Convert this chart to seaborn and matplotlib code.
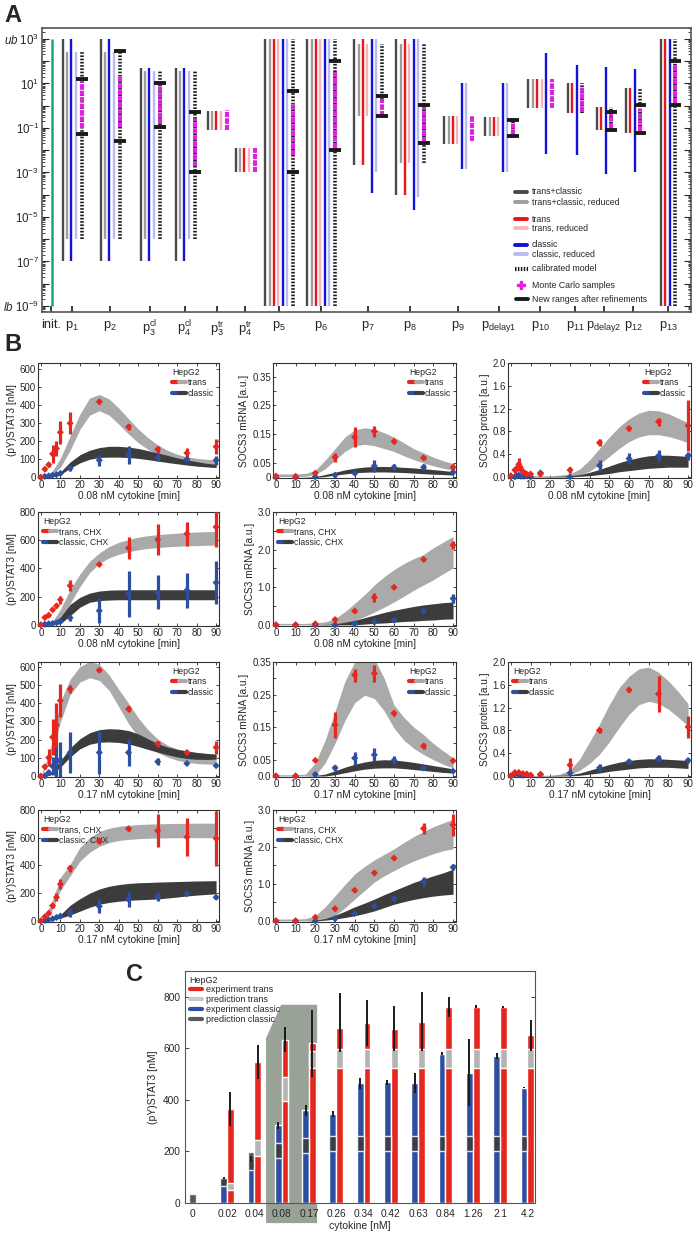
import numpy as np
import seaborn as sns
import matplotlib.pyplot as plt
from matplotlib.lines import Line2D
from matplotlib.legend_handler import HandlerTuple
from matplotlib.patches import Polygon
from matplotlib.ticker import LogLocator, FixedLocator, NullFormatter

W, H = 696, 1236

# ---------------- panel A: parameter ranges (log10 lower, upper) ----------------
par_labels = ['init.', r'$\mathrm{p}_{1}$', r'$\mathrm{p}_{2}$', r'$\mathrm{p}_{3}^{\mathrm{cl}}$',
              r'$\mathrm{p}_{4}^{\mathrm{cl}}$', r'$\mathrm{p}_{3}^{\mathrm{tr}}$', r'$\mathrm{p}_{4}^{\mathrm{tr}}$',
              r'$\mathrm{p}_{5}$', r'$\mathrm{p}_{6}$', r'$\mathrm{p}_{7}$', r'$\mathrm{p}_{8}$', r'$\mathrm{p}_{9}$',
              r'$\mathrm{p}_{\mathrm{delay1}}$', r'$\mathrm{p}_{10}$', r'$\mathrm{p}_{11}$',
              r'$\mathrm{p}_{\mathrm{delay2}}$', r'$\mathrm{p}_{12}$', r'$\mathrm{p}_{13}$']
par_pos = [51, 72, 110, 150, 185, 217, 245, 279, 321, 368, 410, 458, 499, 540, 575, 604, 633, 668]

range_init = (-9, 3)
range_tc = [None, (-7, 3), (-7, 3), (-7, 1.7), (-7, 1.7), (-1.1, -0.24), (-3, -1.9), (-9, 3), (-9, 3),
            (-2.67, 3), (-4, 3), (-1.71, -0.45), (-1.36, -0.5), (-0.1, 1.18), (-0.33, 1.04),
            (-1.08, -0.07), (-1.22, 0.78), (-9, 3)]
range_tcr = [None, (-6, 2.42), (-6, 2.42), (-6, 1.55), (-6, 1.55), (-1.1, -0.24), (-3, -1.9), (-9, 3), (-9, 3),
             (-0.45, 2.76), (-2.56, 2.76), (-1.71, -0.45), (-1.36, -0.5), (-0.1, 1.18), None, None, None, None]
range_tr = [None, None, None, None, None, (-1.1, -0.24), (-3, -1.9), (-9, 3), (-9, 3),
            (-2.67, 3), (-4, 3), (-1.71, -0.45), (-1.36, -0.5), (-0.1, 1.18), (-0.33, 1.04),
            (-1.08, -0.07), (-1.22, 0.78), (-9, 3)]
range_trr = [None, None, None, None, None, (-1.1, -0.24), (-3, -1.9), (-9, 3), (-9, 3),
             (-0.45, 2.76), (-2.56, 2.76), (-1.71, -0.45), (-1.36, -0.5), (-0.1, 1.18), None, None, None, None]
range_cl = [None, (-7, 3), (-7, 3), (-7, 1.7), (-7, 1.7), None, None, (-9, 3), (-9, 3),
            (-3.93, 3), (-4.69, 3), (-2.84, 1.04), (-3.0, 1.04), (-2.16, 2.38), (-2.2, 1.84),
            (-3.09, 1.76), (-3.0, 1.67), (-9, 3)]
range_clr = [None, (-6, 2.42), (-6, 2.42), (-6, 1.55), (-6, 1.55), None, None, (-9, 3), (-9, 3),
             (-2.96, 3), (-4.1, 3), (-2.84, 1.04), (-3.0, 1.04), None, None, None, None, None]
range_cal = [None, (-6, 2.42), (-6, 2.42), (-6, 1.55), (-6, 1.55), (-1.1, -0.24), (-3, -1.9), (-9, 3), (-9, 3),
             (-0.45, 2.76), (-2.56, 2.76), (-1.6, -0.45), (-1.38, -0.64), (-0.1, 1.18), (-0.33, 1.04),
             (-1.08, -0.07), (-1.22, 0.78), (-9, 3)]
range_mc = [None, (-1.0, 1.2), (-0.96, 1.4), (-0.82, 0.96), (-2.73, -0.6), (-1.1, -0.2), (-3, -1.9),
            (-2.2, 0.13), (-1.9, 1.53), (-0.45, 0.29), (-1.62, 0.02), (-1.6, -0.45), (-1.3, -0.75),
            (-0.1, 1.18), (-0.3, 0.9), (-1.0, -0.35), (-1.12, -0.16), (0.13, 1.84)]
range_new = [None, (-1.27, 1.22), (-1.6, 2.47), (-0.96, 1.04), (-3, -0.3), None, None, (-2.97, 0.66),
             (-2, 2), (-0.45, 0.42), (-1.67, 0.02), None, (-1.38, -0.64), None, None, (-1.08, -0.3),
             (-1.22, 0.02), (0.02, 2.02)]

# ---------------- panel B: time courses ----------------
t_band = [0, 5, 10, 15, 20, 25, 30, 35, 40, 45, 50, 55, 60, 65, 70, 75, 80, 85, 90]

# (pY)STAT3, 0.08 nM
stat08_t = [0, 2, 4, 6, 8, 10, 15, 30, 45, 60, 75, 90]
stat08_tr = [0, 45, 70, 130, 160, 250, 300, 420, 280, 155, 135, 170]
stat08_tr_err = [5, 10, 12, 50, 40, 65, 60, 12, 15, 18, 25, 40]
stat08_cl = [0, 5, 8, 12, 15, 22, 50, 95, 125, 110, 100, 95]
stat08_cl_err = [3, 3, 4, 5, 6, 8, 15, 30, 50, 20, 15, 25]
stat08_btr_lo = [0, 10, 55, 150, 265, 345, 370, 345, 295, 240, 192, 155, 125, 100, 84, 73, 65, 60, 57]
stat08_btr_hi = [0, 20, 105, 230, 350, 440, 460, 435, 385, 325, 268, 220, 180, 150, 128, 114, 105, 100, 97]
stat08_bcl_lo = [0, 2, 15, 50, 80, 100, 110, 112, 112, 110, 105, 98, 90, 82, 75, 68, 62, 58, 54]
stat08_bcl_hi = [0, 6, 30, 85, 125, 150, 165, 172, 172, 168, 160, 148, 135, 122, 108, 97, 87, 78, 72]

# SOCS3 mRNA, 0.08 nM
mrna08_t = [0, 10, 20, 30, 40, 50, 60, 75, 90]
mrna08_tr = [0.005, 0.004, 0.015, 0.07, 0.14, 0.16, 0.125, 0.068, 0.035]
mrna08_tr_err = [0.004, 0.004, 0.005, 0.015, 0.035, 0.02, 0.008, 0.008, 0.01]
mrna08_cl = [0.0, 0.0, 0.002, 0.008, 0.015, 0.04, 0.035, 0.035, 0.018]
mrna08_cl_err = [0.002, 0.002, 0.003, 0.005, 0.005, 0.02, 0.01, 0.01, 0.006]
mrna08_btr_lo = [0.003, 0.003, 0.003, 0.004, 0.01, 0.03, 0.06, 0.09, 0.11, 0.115, 0.11, 0.1, 0.09, 0.075,
                 0.062, 0.05, 0.04, 0.032, 0.025]
mrna08_btr_hi = [0.012, 0.012, 0.012, 0.014, 0.025, 0.06, 0.1, 0.14, 0.165, 0.172, 0.168, 0.155, 0.14, 0.12,
                 0.1, 0.085, 0.07, 0.058, 0.048]
mrna08_bcl_lo = [0, 0, 0, 0, 0, 0.003, 0.008, 0.012, 0.016, 0.018, 0.019, 0.019, 0.018, 0.017, 0.015, 0.013,
                 0.011, 0.01, 0.008]
mrna08_bcl_hi = [0, 0, 0, 0.001, 0.003, 0.01, 0.018, 0.026, 0.032, 0.036, 0.038, 0.038, 0.037, 0.035, 0.033,
                 0.03, 0.027, 0.024, 0.02]

# SOCS3 protein, 0.08 nM
prot08_t = [0, 2, 3, 4, 5, 6.5, 8, 10, 15, 30, 45, 60, 75, 90]
prot08_tr = [0.02, 0.12, 0.15, 0.22, 0.14, 0.08, 0.05, 0.05, 0.05, 0.12, 0.6, 0.85, 0.97, 0.9]
prot08_tr_err = [0.02, 0.05, 0.05, 0.12, 0.06, 0.04, 0.03, 0.02, 0.03, 0.06, 0.06, 0.04, 0.07, 0.45]
prot08_cl = [0.0, 0.0, 0.02, 0.03, 0.01, 0.01, 0.02, 0.0, 0.07, 0.0, 0.2, 0.32, 0.37, 0.37]
prot08_cl_err = [0.02, 0.02, 0.02, 0.02, 0.02, 0.02, 0.02, 0.02, 0.04, 0.02, 0.09, 0.1, 0.1, 0.07]
prot08_btr_lo = [0, 0, 0, 0, 0, 0, 0.0, 0.03, 0.1, 0.22, 0.36, 0.5, 0.62, 0.7, 0.74, 0.74, 0.71, 0.66, 0.6]
prot08_btr_hi = [0.02, 0.02, 0.02, 0.02, 0.02, 0.03, 0.05, 0.14, 0.3, 0.5, 0.7, 0.88, 1.02, 1.12, 1.17, 1.16,
                 1.11, 1.03, 0.95]
prot08_bcl_lo = [0, 0, 0, 0, 0, 0, 0, 0.01, 0.02, 0.04, 0.06, 0.09, 0.11, 0.13, 0.15, 0.16, 0.17, 0.17, 0.17]
prot08_bcl_hi = [0.005, 0.005, 0.005, 0.005, 0.005, 0.01, 0.02, 0.04, 0.08, 0.13, 0.19, 0.25, 0.3, 0.34, 0.37,
                 0.38, 0.38, 0.37, 0.36]

# (pY)STAT3, 0.08 nM, CHX
stat08c_t = [0, 2, 4, 6, 8, 10, 15, 30, 45, 60, 75, 90]
stat08c_tr = [0, 52, 69, 107, 135, 178, 278, 428, 544, 605, 646, 694]
stat08c_tr_err = [5, 8, 10, 12, 15, 30, 40, 12, 80, 110, 85, 140]
stat08c_cl = [0, 5, 8, 10, 15, 25, 50, 100, 220, 230, 245, 300]
stat08c_cl_err = [3, 3, 4, 5, 5, 10, 20, 90, 165, 120, 125, 150]
stat08c_btr_lo = [0, 0, 40, 150, 270, 370, 435, 475, 500, 518, 532, 542, 548, 553, 557, 560, 562, 564, 565]
stat08c_btr_hi = [0, 5, 110, 250, 360, 450, 510, 555, 585, 605, 622, 632, 640, 645, 650, 655, 658, 660, 662]
stat08c_bcl_lo = [0, 0, 8, 65, 125, 160, 172, 176, 178, 178, 178, 178, 178, 178, 178, 178, 178, 178, 178]
stat08c_bcl_hi = [0, 2, 55, 145, 195, 225, 240, 246, 248, 249, 249, 249, 249, 249, 249, 249, 249, 249, 249]

# SOCS3 mRNA, 0.08 nM, CHX
mrna08c_t = [0, 10, 20, 30, 40, 50, 60, 75, 90]
mrna08c_tr = [0.0, 0.0, 0.03, 0.14, 0.37, 0.73, 1.0, 1.74, 2.12]
mrna08c_tr_err = [0.03, 0.03, 0.04, 0.06, 0.06, 0.12, 0.04, 0.04, 0.1]
mrna08c_cl = [0.0, 0.0, 0.0, 0.0, 0.03, 0.07, 0.13, 0.37, 0.7]
mrna08c_cl_err = [0.02, 0.02, 0.02, 0.02, 0.02, 0.02, 0.03, 0.05, 0.12]
mrna08c_btr_lo = [0, 0, 0, 0, 0.0, 0.0, 0.02, 0.06, 0.12, 0.22, 0.34, 0.47, 0.61, 0.76, 0.92, 1.06, 1.2, 1.36, 1.51]
mrna08c_btr_hi = [0.04, 0.04, 0.04, 0.04, 0.05, 0.08, 0.16, 0.35, 0.57, 0.8, 1.06, 1.28, 1.47, 1.63, 1.76, 1.87,
                  2.05, 2.2, 2.35]
mrna08c_bcl_lo = [0, 0, 0, 0, 0, 0, 0, 0.0, 0.0, 0.02, 0.04, 0.05, 0.07, 0.09, 0.1, 0.12, 0.13, 0.15, 0.16]
mrna08c_bcl_hi = [0, 0, 0, 0, 0.005, 0.01, 0.03, 0.07, 0.12, 0.19, 0.26, 0.33, 0.39, 0.44, 0.49, 0.53, 0.56, 0.59, 0.61]

# (pY)STAT3, 0.17 nM
stat17_t = [0, 2, 4, 6, 8, 10, 15, 30, 45, 60, 75, 90]
stat17_tr = [0, 52, 102, 214, 279, 414, 477, 580, 368, 177, 130, 158]
stat17_tr_err = [4, 12, 45, 100, 120, 90, 22, 12, 18, 15, 15, 35]
stat17_cl = [0, 2, 20, 55, 80, 90, 130, 130, 130, 80, 70, 58]
stat17_cl_err = [3, 3, 15, 50, 100, 100, 110, 120, 75, 18, 10, 10]
stat17_btr_lo = [0, 90, 297, 446, 515, 539, 524, 470, 380, 288, 215, 165, 130, 105, 88, 76, 70, 67, 65]
stat17_btr_hi = [0, 158, 409, 530, 600, 628, 613, 555, 475, 400, 320, 255, 204, 170, 150, 139, 131, 125, 121]
stat17_bcl_lo = [0, 8, 50, 105, 150, 175, 186, 188, 185, 177, 163, 147, 132, 118, 106, 97, 93, 92, 94]
stat17_bcl_hi = [0, 18, 85, 155, 205, 238, 255, 260, 258, 250, 232, 205, 178, 160, 147, 138, 130, 125, 121]

# SOCS3 mRNA, 0.17 nM
mrna17_t = [0, 10, 20, 30, 40, 50, 60, 75, 90]
mrna17_tr = [0.0, 0.0, 0.048, 0.157, 0.31, 0.315, 0.193, 0.092, 0.047]
mrna17_tr_err = [0.003, 0.003, 0.006, 0.04, 0.02, 0.025, 0.008, 0.01, 0.005]
mrna17_cl = [0.0, 0.0, 0.005, 0.025, 0.055, 0.065, 0.048, 0.025, 0.015]
mrna17_cl_err = [0.002, 0.002, 0.004, 0.01, 0.02, 0.02, 0.012, 0.005, 0.004]
mrna17_btr_lo = [0, 0, 0, 0, 0.002, 0.04, 0.1, 0.17, 0.225, 0.248, 0.238, 0.2, 0.147, 0.11, 0.085, 0.066, 0.05,
                 0.036, 0.025]
mrna17_btr_hi = [0.004, 0.004, 0.004, 0.006, 0.04, 0.11, 0.198, 0.29, 0.35, 0.37, 0.36, 0.3, 0.218, 0.18, 0.15,
                 0.127, 0.1, 0.077, 0.056]
mrna17_bcl_lo = [0, 0, 0, 0, 0, 0, 0.004, 0.01, 0.016, 0.021, 0.024, 0.025, 0.025, 0.023, 0.02, 0.017, 0.014,
                 0.011, 0.009]
mrna17_bcl_hi = [0, 0, 0, 0, 0.002, 0.006, 0.016, 0.027, 0.036, 0.043, 0.048, 0.05, 0.049, 0.046, 0.042, 0.037,
                 0.032, 0.027, 0.022]

# SOCS3 protein, 0.17 nM
prot17_t = [0, 2, 4, 6, 8, 10, 15, 30, 45, 60, 75, 90]
prot17_tr = [0.0, 0.06, 0.06, 0.04, 0.03, 0.01, 0.03, 0.19, 0.8, 1.51, 1.44, 0.86]
prot17_tr_err = [0.02, 0.03, 0.03, 0.03, 0.02, 0.02, 0.02, 0.12, 0.04, 0.04, 0.32, 0.2]
prot17_cl = [0.0, 0.03, 0.02, 0.01, 0.03, 0.01, 0.02, 0.05, 0.14, 0.25, 0.3, 0.27]
prot17_cl_err = [0.01, 0.02, 0.02, 0.02, 0.02, 0.01, 0.01, 0.02, 0.06, 0.04, 0.06, 0.05]
prot17_btr_lo = [0, 0, 0, 0, 0, 0, 0.02, 0.1, 0.22, 0.38, 0.6, 0.85, 1.08, 1.25, 1.31, 1.27, 1.17, 1.03, 0.88]
prot17_btr_hi = [0.01, 0.01, 0.01, 0.01, 0.01, 0.03, 0.1, 0.3, 0.6, 0.91, 1.25, 1.55, 1.75, 1.88, 1.91, 1.82,
                 1.67, 1.48, 1.27]
prot17_bcl_lo = [0, 0, 0, 0, 0, 0, 0, 0.01, 0.03, 0.05, 0.08, 0.1, 0.12, 0.14, 0.15, 0.15, 0.15, 0.14, 0.13]
prot17_bcl_hi = [0.005, 0.005, 0.005, 0.005, 0.005, 0.01, 0.02, 0.05, 0.1, 0.15, 0.2, 0.24, 0.27, 0.29, 0.3, 0.3,
                 0.29, 0.28, 0.27]

# (pY)STAT3, 0.17 nM, CHX
stat17c_t = [0, 2, 4, 6, 8, 10, 15, 30, 45, 60, 75, 90]
stat17c_tr = [0, 30, 55, 110, 170, 265, 380, 575, 665, 650, 605, 595]
stat17c_tr_err = [5, 8, 10, 15, 30, 35, 25, 20, 15, 120, 140, 200]
stat17c_cl = [0, 3, 8, 15, 25, 35, 60, 105, 155, 175, 195, 170]
stat17c_cl_err = [3, 3, 4, 5, 8, 15, 30, 50, 55, 35, 10, 15]
stat17c_btr_lo = [0, 54, 219, 325, 430, 495, 538, 565, 580, 588, 593, 596, 598, 599, 600, 600, 600, 600, 600]
stat17c_btr_hi = [0, 113, 313, 407, 530, 600, 645, 668, 682, 690, 695, 698, 700, 702, 703, 704, 705, 705, 705]
stat17c_bcl_lo = [0, 5, 20, 42, 70, 98, 120, 133, 142, 148, 152, 155, 158, 165, 172, 180, 186, 191, 195]
stat17c_bcl_hi = [0, 15, 45, 113, 160, 200, 230, 250, 262, 270, 275, 277, 280, 282, 284, 286, 288, 289, 290]

# SOCS3 mRNA, 0.17 nM, CHX
mrna17c_t = [0, 10, 20, 30, 40, 50, 60, 75, 90]
mrna17c_tr = [0.0, 0.0, 0.1, 0.33, 0.83, 1.3, 1.7, 2.5, 2.6]
mrna17c_tr_err = [0.03, 0.03, 0.03, 0.05, 0.04, 0.05, 0.05, 0.15, 0.3]
mrna17c_cl = [0.0, 0.0, 0.0, 0.06, 0.2, 0.4, 0.6, 1.07, 1.45]
mrna17c_cl_err = [0.02, 0.02, 0.02, 0.03, 0.04, 0.05, 0.06, 0.12, 0.08]
mrna17c_btr_lo = [0, 0, 0, 0, 0.02, 0.08, 0.14, 0.35, 0.59, 0.82, 1.05, 1.22, 1.36, 1.5, 1.62, 1.72, 1.82, 1.9, 1.95]
mrna17c_btr_hi = [0.05, 0.05, 0.05, 0.06, 0.14, 0.38, 0.68, 0.98, 1.27, 1.47, 1.65, 1.8, 1.95, 2.12, 2.28, 2.42,
                  2.55, 2.65, 2.75]
mrna17c_bcl_lo = [0, 0, 0, 0, 0, 0.02, 0.05, 0.09, 0.14, 0.2, 0.27, 0.36, 0.45, 0.52, 0.58, 0.63, 0.67, 0.7, 0.72]
mrna17c_bcl_hi = [0, 0, 0, 0, 0.02, 0.07, 0.15, 0.26, 0.38, 0.48, 0.59, 0.71, 0.82, 0.93, 1.04, 1.13, 1.22, 1.3, 1.4]

# ---------------- panel C: dose response ----------------
conc_labels = ['0', '0.02', '0.04', '0.08', '0.17', '0.26', '0.34', '0.42', '0.63', '0.84', '1.26', '2.1', '4.2']
conc_pos = [-1.28, 0, 1, 2, 3, 4, 5, 6, 7, 8, 9, 10, 11]
exp_classic = [np.nan, 97, 171, 301, 359, 345, 464, 469, 466, 579, 506, 570, 447]
exp_classic_err = [np.nan, 5, 10, 12, 22, 10, 22, 10, 38, 5, 130, 12, 2]
exp_trans = [np.nan, 365, 548, 634, 619, 680, 700, 675, 703, 760, 762, 760, 650]
exp_trans_err_lo = [np.nan, 65, 68, 50, 130, 95, 90, 85, 113, 40, 5, 5, 60]
exp_trans_err_hi = [np.nan, 67, 64, 50, 130, 135, 88, 90, 117, 40, 5, 5, 60]
pred_classic_lo = [0, 65, 127, 175, 194, 201, 201, 201, 201, 201, 201, 201, 201]
pred_classic_hi = [35, 97, 196, 233, 253, 259, 259, 259, 259, 259, 259, 259, 259]
pred_trans_lo = [np.nan, 49, 184, 395, 525, 525, 525, 525, 525, 525, 525, 525, 525]
pred_trans_hi = [np.nan, 78, 246, 490, 590, 596, 596, 596, 596, 596, 596, 596, 596]

# ---------------- style ----------------
sns.set_theme(style='ticks')
plt.rcParams['font.family'] = ['Liberation Sans', 'DejaVu Sans']
plt.rcParams['mathtext.fontset'] = 'custom'
plt.rcParams['mathtext.rm'] = 'Liberation Sans'
plt.rcParams['mathtext.it'] = 'Liberation Sans:italic'
plt.rcParams['mathtext.bf'] = 'Liberation Sans:bold'
plt.rcParams['axes.edgecolor'] = '#333333'
plt.rcParams['axes.linewidth'] = 0.8

C_TC, C_TCR = '#4a4a4a', '#9d9d9d'
C_TR, C_TRR = '#e8161b', '#f7b6b6'
C_CL, C_CLR = '#1212d8', '#b9bcf2'
C_INIT, C_MC = '#1aa57a', '#e21fe2'
RED, BLUE = '#e5271f', '#2c4f9f'
BAND_TR, BAND_CL = '#aaaaaa', '#3c3c3c'


def box(x0, y0, x1, y1):
    return [x0 / W, 1 - y1 / H, (x1 - x0) / W, (y1 - y0) / H]


fig = plt.figure(figsize=(W / 100, H / 100), dpi=100)

# ================= A =================
ax = fig.add_axes(box(42, 28, 691, 312))
ax.set_yscale('log')
series = [(range_tc, C_TC), (range_tcr, C_TCR), (range_tr, C_TR), (range_trr, C_TRR),
          (range_cl, C_CL), (range_clr, C_CLR)]
gap, dgap = 4.4, 5.8
for i, xc in enumerate(par_pos):
    if i == 0:
        ax.vlines(52, 10.0 ** range_init[0], 10.0 ** range_init[1], color=C_INIT, lw=1.8)
        continue
    present = [(r[i], c) for r, c in series if r[i] is not None]
    width = (len(present) - 1) * gap + dgap
    x0 = xc - width / 2
    for j, (rg, c) in enumerate(present):
        ax.vlines(x0 + j * gap, 10.0 ** rg[0], 10.0 ** rg[1], color=c, lw=1.7)
    xd = x0 + width
    if range_cal[i] is not None:
        ax.vlines(xd, 10.0 ** range_cal[i][0], 10.0 ** range_cal[i][1], color='k', lw=2.6,
                  linestyles=(0, (0.45, 0.45)))
    if range_mc[i] is not None:
        ax.vlines(xd, 10.0 ** range_mc[i][0], 10.0 ** range_mc[i][1], color=C_MC, lw=3.0,
                  linestyles=(0, (1.2, 0.35)), zorder=3)
    if range_new[i] is not None:
        ax.plot([xd, xd], [10.0 ** range_new[i][0], 10.0 ** range_new[i][1]], ls='none',
                marker='_', ms=8, mew=2.8, color='k', zorder=4)

ax.set_xlim(42, 691)
ax.set_ylim(10 ** -9.27, 10 ** 3.49)
ax.set_xticks(par_pos)
ax.set_xticklabels(par_labels, fontsize=9.3)
ax.yaxis.set_major_locator(FixedLocator([10.0 ** k for k in range(-9, 4)]))
ylabels = []
for k in range(-9, 4):
    if k == 3:
        ylabels.append(r'$\mathit{ub}\ 10^{3}$')
    elif k == -9:
        ylabels.append(r'$\mathit{lb}\ 10^{-9}$')
    elif k % 2 != 0:
        ylabels.append(r'$10^{%d}$' % k)
    else:
        ylabels.append('')
ax.set_yticklabels(ylabels, fontsize=8.3)
ax.yaxis.set_minor_locator(LogLocator(base=10, subs=np.arange(2, 10), numticks=100))
ax.yaxis.set_minor_formatter(NullFormatter())
ax.tick_params(axis='y', which='both', direction='in', left=True, right=True, pad=2)
ax.tick_params(axis='y', which='major', length=5, width=0.8)
ax.tick_params(axis='y', which='minor', length=2.5, width=0.6)
ax.tick_params(axis='x', direction='in', length=4, pad=5)
for s in ax.spines.values():
    s.set_color('#555555')
    s.set_linewidth(1.2)

# legend of A (drawn on the figure)
leg_rows = [('trans+classic', C_TC, 192), ('trans+classic, reduced', C_TCR, 202),
            ('trans', C_TR, 219), ('trans, reduced', C_TRR, 228),
            ('classic', C_CL, 245), ('classic, reduced', C_CLR, 254),
            ('calibrated model', 'cal', 269), ('Monte Carlo samples', 'mc', 285),
            ('New ranges after refinements', 'new', 299)]
for lab, sty, yy in leg_rows:
    yf = 1 - yy / H
    if sty == 'cal':
        fig.add_artist(Line2D([515 / W, 528 / W], [yf, yf], color='k', lw=3,
                              ls=(0, (0.35, 0.35))))
    elif sty == 'mc':
        fig.add_artist(Line2D([521 / W], [yf], color=C_MC, marker='P', ms=6, ls='none'))
    elif sty == 'new':
        fig.add_artist(Line2D([516 / W, 528 / W], [yf, yf], color='k', lw=2.8))
    else:
        fig.add_artist(Line2D([515 / W, 527 / W], [yf, yf], color=sty, lw=2.8))
    fig.text(532 / W, yf, lab, fontsize=6.3, va='center', ha='left')

# ================= B =================
cols = [(38, 219), (273, 456), (508, 691)]
rows = [(363, 478), (512, 626), (662, 777), (810, 922)]

stat_ticks = [0, 100, 200, 300, 400, 500, 600]
stat_ticks_chx = [0, 200, 400, 600, 800]
mrna_ticks = [0, 0.05, 0.1, 0.15, 0.2, 0.25, 0.3, 0.35]
chx_mrna_ticks = [0, 0.5, 1.0, 1.5, 2.0, 2.5, 3.0]
prot_ticks = [0, 0.4, 0.8, 1.2, 1.6, 2.0]

panels = [
    dict(r=0, c=0, t=stat08_t, tr=stat08_tr, tre=stat08_tr_err, cl=stat08_cl, cle=stat08_cl_err,
         btr=(stat08_btr_lo, stat08_btr_hi), bcl=(stat08_bcl_lo, stat08_bcl_hi), ylim=(-4, 635),
         yt=stat_ticks, ytl=[str(v) for v in stat_ticks], yl='(pY)STAT3 [nM]', dose='0.08', chx=False,
         loc='upper right'),
    dict(r=0, c=1, t=mrna08_t, tr=mrna08_tr, tre=mrna08_tr_err, cl=mrna08_cl, cle=mrna08_cl_err,
         btr=(mrna08_btr_lo, mrna08_btr_hi), bcl=(mrna08_bcl_lo, mrna08_bcl_hi), ylim=(-0.002, 0.397),
         yt=mrna_ticks, ytl=['0', '0.05', '', '0.15', '', '0.25', '', '0.35'], yl='SOCS3 mRNA [a.u.]',
         dose='0.08', chx=False, loc='upper right'),
    dict(r=0, c=2, t=prot08_t, tr=prot08_tr, tre=prot08_tr_err, cl=prot08_cl, cle=prot08_cl_err,
         btr=(prot08_btr_lo, prot08_btr_hi), bcl=(prot08_bcl_lo, prot08_bcl_hi), ylim=(-0.02, 2.0),
         yt=prot_ticks, ytl=['0.0', '0.4', '0.8', '1.2', '1.6', '2.0'], yl='SOCS3 protein [a.u.]',
         dose='0.08', chx=False, loc='upper right'),
    dict(r=1, c=0, t=stat08c_t, tr=stat08c_tr, tre=stat08c_tr_err, cl=stat08c_cl, cle=stat08c_cl_err,
         btr=(stat08c_btr_lo, stat08c_btr_hi), bcl=(stat08c_bcl_lo, stat08c_bcl_hi), ylim=(-8, 800),
         yt=stat_ticks_chx, ytl=[str(v) for v in stat_ticks_chx], yl='(pY)STAT3 [nM]', dose='0.08',
         chx=True, loc='upper left'),
    dict(r=1, c=1, t=mrna08c_t, tr=mrna08c_tr, tre=mrna08c_tr_err, cl=mrna08c_cl, cle=mrna08c_cl_err,
         btr=(mrna08c_btr_lo, mrna08c_btr_hi), bcl=(mrna08c_bcl_lo, mrna08c_bcl_hi), ylim=(-0.03, 3.0),
         yt=chx_mrna_ticks, ytl=['0.0', '', '1.0', '', '2.0', '', '3.0'], yl='SOCS3 mRNA [a.u.]',
         dose='0.08', chx=True, loc='upper left'),
    dict(r=2, c=0, t=stat17_t, tr=stat17_tr, tre=stat17_tr_err, cl=stat17_cl, cle=stat17_cl_err,
         btr=(stat17_btr_lo, stat17_btr_hi), bcl=(stat17_bcl_lo, stat17_bcl_hi), ylim=(-4, 625),
         yt=stat_ticks, ytl=[str(v) for v in stat_ticks], yl='(pY)STAT3 [nM]', dose='0.17', chx=False,
         loc='upper right'),
    dict(r=2, c=1, t=mrna17_t, tr=mrna17_tr, tre=mrna17_tr_err, cl=mrna17_cl, cle=mrna17_cl_err,
         btr=(mrna17_btr_lo, mrna17_btr_hi), bcl=(mrna17_bcl_lo, mrna17_bcl_hi), ylim=(-0.003, 0.35),
         yt=mrna_ticks, ytl=['0.0', '0.05', '', '0.15', '', '0.25', '', '0.35'], yl='SOCS3 mRNA [a.u.]',
         dose='0.17', chx=False, loc='upper right'),
    dict(r=2, c=2, t=prot17_t, tr=prot17_tr, tre=prot17_tr_err, cl=prot17_cl, cle=prot17_cl_err,
         btr=(prot17_btr_lo, prot17_btr_hi), bcl=(prot17_bcl_lo, prot17_bcl_hi), ylim=(-0.02, 2.0),
         yt=prot_ticks, ytl=['0.0', '0.4', '0.8', '1.2', '1.6', '2.0'], yl='SOCS3 protein [a.u.]',
         dose='0.17', chx=False, loc='upper left'),
    dict(r=3, c=0, t=stat17c_t, tr=stat17c_tr, tre=stat17c_tr_err, cl=stat17c_cl, cle=stat17c_cl_err,
         btr=(stat17c_btr_lo, stat17c_btr_hi), bcl=(stat17c_bcl_lo, stat17c_bcl_hi), ylim=(-8, 800),
         yt=stat_ticks_chx, ytl=[str(v) for v in stat_ticks_chx], yl='(pY)STAT3 [nM]', dose='0.17',
         chx=True, loc='upper left'),
    dict(r=3, c=1, t=mrna17c_t, tr=mrna17c_tr, tre=mrna17c_tr_err, cl=mrna17c_cl, cle=mrna17c_cl_err,
         btr=(mrna17c_btr_lo, mrna17c_btr_hi), bcl=(mrna17c_bcl_lo, mrna17c_bcl_hi), ylim=(-0.03, 3.0),
         yt=chx_mrna_ticks, ytl=['0.0', '', '1.0', '', '2.0', '', '3.0'], yl='SOCS3 mRNA [a.u.]',
         dose='0.17', chx=True, loc='upper left'),
]

for p in panels:
    x0, x1 = cols[p['c']]
    y0, y1 = rows[p['r']]
    axb = fig.add_axes(box(x0, y0, x1, y1))
    axb.fill_between(t_band, p['btr'][0], p['btr'][1], color=BAND_TR, lw=0, zorder=1)
    axb.fill_between(t_band, p['bcl'][0], p['bcl'][1], color=BAND_CL, lw=0, zorder=2)
    axb.errorbar(p['t'], p['cl'], yerr=p['cle'], fmt='none', ecolor=BLUE, elinewidth=2.3, zorder=3)
    axb.errorbar(p['t'], p['tr'], yerr=p['tre'], fmt='none', ecolor=RED, elinewidth=2.3, zorder=4)
    sns.scatterplot(x=p['t'], y=p['cl'], ax=axb, marker='D', s=13, color=BLUE, edgecolor='none',
                    zorder=5, clip_on=False)
    sns.scatterplot(x=p['t'], y=p['tr'], ax=axb, marker='D', s=13, color=RED, edgecolor='none',
                    zorder=6, clip_on=False)
    axb.set_xlim(-1.5, 91.5)
    axb.set_ylim(*p['ylim'])
    axb.set_xticks(range(0, 91, 10))
    axb.set_xticklabels([str(v) for v in range(0, 91, 10)], fontsize=7)
    axb.set_yticks(p['yt'])
    axb.set_yticklabels(p['ytl'], fontsize=7)
    axb.tick_params(direction='in', top=True, right=True, length=2.5, width=0.6, pad=1.5)
    axb.set_xlabel(f"{p['dose']} nM cytokine [min]", fontsize=7.3, labelpad=1)
    axb.set_ylabel(p['yl'], fontsize=7.3, labelpad=2)
    suffix = ', CHX' if p['chx'] else ''
    handles = [(Line2D([], [], color=RED, lw=3), Line2D([], [], color=BAND_TR, lw=3)),
               (Line2D([], [], color=BLUE, lw=3), Line2D([], [], color=BAND_CL, lw=3))]
    axb.legend(handles, ['trans' + suffix, 'classic' + suffix],
               handler_map={tuple: HandlerTuple(ndivide=None, pad=0)}, loc=p['loc'], title='HepG2',
               frameon=False, fontsize=6.2, title_fontsize=6.2, alignment='left', handlelength=1.6,
               handletextpad=0.2, labelspacing=0.15, borderpad=0.3, borderaxespad=0.3)

# ================= C =================
axc = fig.add_axes(box(185, 971, 535, 1203))
pos = np.array(conc_pos, dtype=float)
ec = np.array(exp_classic, dtype=float)
et = np.array(exp_trans, dtype=float)
off = 0.125
bw = 0.25
shade = Polygon([(1.43, -78), (1.43, 640), (1.98, 769), (3.3, 769), (3.3, -78)], closed=True,
                facecolor='#99a297', edgecolor='none', clip_on=False, zorder=0)
axc.add_patch(shade)
axc.bar(pos - off, ec, width=bw, color=BLUE, zorder=2)
axc.bar(pos + off, et, width=bw, color=RED, zorder=2)
pc_x = np.where(np.isnan(ec), pos, pos - off)
axc.bar(pc_x, np.array(pred_classic_hi) - np.array(pred_classic_lo), bottom=pred_classic_lo,
        width=bw, color=BAND_CL, alpha=0.85, zorder=3)
axc.bar(pos + off, np.array(pred_trans_hi) - np.array(pred_trans_lo), bottom=pred_trans_lo,
        width=bw, color='#b4b4b4', zorder=3)
axc.errorbar(pos - off, ec, yerr=exp_classic_err, fmt='none', ecolor='k', elinewidth=1.4, zorder=4)
axc.errorbar(pos + off, et, yerr=[exp_trans_err_lo, exp_trans_err_hi], fmt='none', ecolor='k',
             elinewidth=1.4, zorder=4)
axc.set_xlim(-1.54, 11.28)
axc.set_ylim(0, 900)
axc.set_xticks(conc_pos)
axc.set_xticklabels(conc_labels, fontsize=7.3)
axc.set_yticks([0, 200, 400, 600, 800])
axc.set_yticklabels(['0', '200', '400', '600', '800'], fontsize=7.3)
axc.tick_params(axis='x', length=0, pad=4)
axc.tick_params(axis='y', direction='in', right=True, length=3, width=0.6)
axc.set_ylabel('(pY)STAT3 [nM]', fontsize=7.5)
axc.set_xlabel('cytokine [nM]', fontsize=7.5, labelpad=2)
for s in axc.spines.values():
    s.set_color('#555555')
c_handles = [Line2D([], [], color=RED, lw=3), Line2D([], [], color='#c8c8c8', lw=3),
             Line2D([], [], color=BLUE, lw=3), Line2D([], [], color='#5a5a5a', lw=3)]
axc.legend(c_handles, ['experiment trans', 'prediction trans', 'experiment classic', 'prediction classic'],
           loc='upper left', title='HepG2', frameon=False, fontsize=6.5, title_fontsize=6.5,
           alignment='left', handlelength=1.4, handletextpad=0.4, labelspacing=0.1, borderpad=0.3,
           borderaxespad=0.2)

# panel letters
fig.text(4 / W, 1 - 4 / H, 'A', fontsize=17, fontweight='bold', va='top')
fig.text(4 / W, 1 - 333 / H, 'B', fontsize=17, fontweight='bold', va='top')
fig.text(126 / W, 1 - 963 / H, 'C', fontsize=17, fontweight='bold', va='top')

fig.savefig('out.png', dpi=100)
